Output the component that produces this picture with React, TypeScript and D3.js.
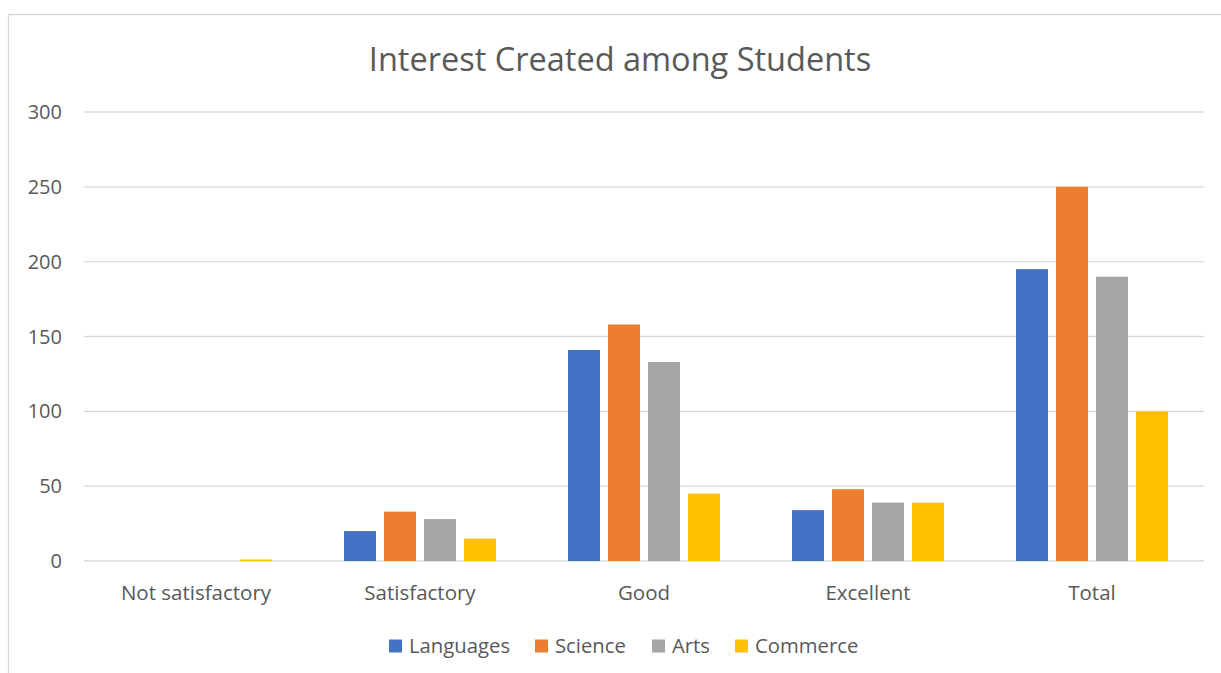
import React from "react";
import * as d3 from "d3";

const categories = ["Not satisfactory", "Satisfactory", "Good", "Excellent", "Total"];
const seriesNames = ["Languages", "Science", "Arts", "Commerce"];
const languages = [0, 20, 141, 34, 195];
const science = [0, 33, 158, 48, 250];
const arts = [0, 28, 133, 39, 190];
const commerce = [1, 15, 45, 39, 100];
const yTicks = [0, 50, 100, 150, 200, 250, 300];
const colors = ["#4472C4", "#ED7D31", "#A5A5A5", "#FFC000"];

const W = 1221;
const H = 673;
const FONT = "'Open Sans', 'Noto Sans', sans-serif";

export default function App() {
  const series = [languages, science, arts, commerce];
  const x = d3.scaleBand<string>().domain(categories).range([84, 1204]).paddingInner(0).paddingOuter(0);
  const inner = d3
    .scaleBand<string>()
    .domain(seriesNames)
    .range([36, x.bandwidth() - 36])
    .paddingInner(0.2);
  const y = d3.scaleLinear().domain([0, 300]).range([561, 112]);

  const legendX = [389, 535, 652, 735];

  return (
    <svg
      width={W}
      height={H}
      style={{ position: "absolute", left: 0, top: 0, background: "#fff" }}
      fontFamily={FONT}
    >
      <rect x={0} y={0} width={W} height={H} fill="#fff" />
      <path d="M8.5,673 V14.5 H1221" fill="none" stroke="#D9D9D9" strokeWidth={1.3} />
      <text x={620} y={71} textAnchor="middle" fontSize={32.5} fill="#595959">
        Interest Created among Students
      </text>
      {yTicks.map((t) => (
        <g key={t}>
          <line x1={84} x2={1204} y1={y(t)} y2={y(t)} stroke="#D9D9D9" strokeWidth={1.3} />
          <text x={62} y={y(t) + 7} textAnchor="end" fontSize={20} fill="#595959">
            {t}
          </text>
        </g>
      ))}
      {categories.map((c, i) => (
        <g key={c} transform={`translate(${x(c)},0)`}>
          {series.map((s, j) => (
            <rect
              key={j}
              x={inner(seriesNames[j])}
              width={inner.bandwidth()}
              y={y(s[i])}
              height={y(0) - y(s[i])}
              fill={colors[j]}
            />
          ))}
          <text x={x.bandwidth() / 2} y={600} textAnchor="middle" fontSize={20.5} fill="#595959">
            {c}
          </text>
        </g>
      ))}
      {seriesNames.map((n, j) => (
        <g key={n} transform={`translate(${legendX[j]},0)`}>
          <rect x={0} y={639.5} width={13} height={13} fill={colors[j]} />
          <text x={20} y={653} fontSize={20.3} fill="#595959">
            {n}
          </text>
        </g>
      ))}
    </svg>
  );
}
